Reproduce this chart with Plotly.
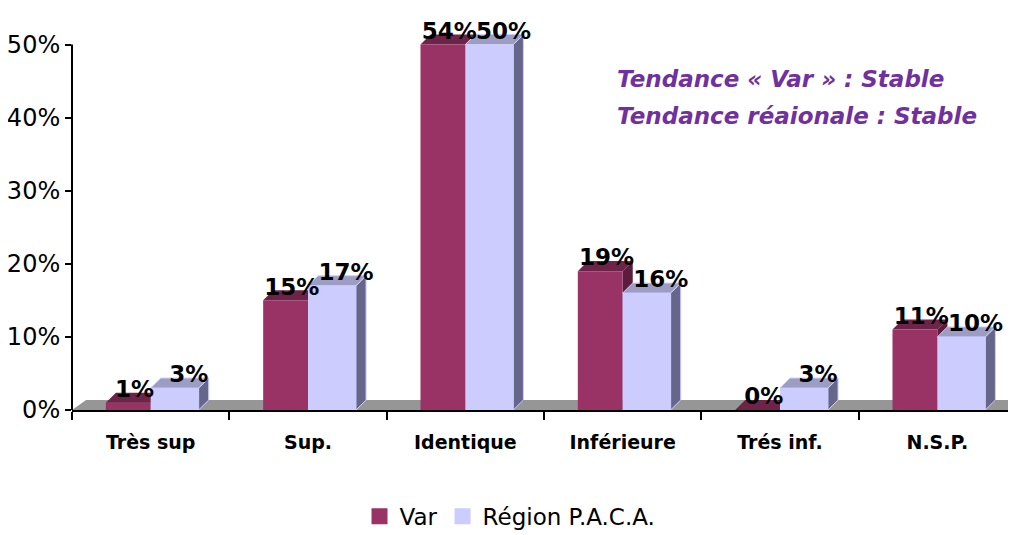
import plotly.graph_objects as go

categories = ["Très sup", "Sup.", "Identique", "Inférieure", "Trés inf.", "N.S.P."]
var_values = [1, 15, 54, 19, 0, 11]
paca_values = [3, 17, 50, 16, 3, 10]
y_ticks = [0, 10, 20, 30, 40, 50]

Y_MAX = 50          # axis is capped at 50%, taller bars are cut there
DX, DY = 0.064, 1.37  # 3D depth offset in data units
W_VAR, W_PACA = 0.285, 0.305

FONT = "DejaVu Sans"


def box_faces(x0, w, v):
    # front, top and side polygons of one 3D bar
    front = [(x0, 0), (x0, v), (x0 + w, v), (x0 + w, 0), (x0, 0)]
    top = [(x0, v), (x0 + DX, v + DY), (x0 + w + DX, v + DY), (x0 + w, v), (x0, v)]
    side = [(x0 + w, 0), (x0 + w, v), (x0 + w + DX, v + DY), (x0 + w + DX, DY), (x0 + w, 0)]
    return front, top, side


def poly_trace(polys, color, line_color=None):
    xs, ys = [], []
    for p in polys:
        xs += [pt[0] for pt in p] + [None]
        ys += [pt[1] for pt in p] + [None]
    return go.Scatter(
        x=xs, y=ys, mode="lines", fill="toself", fillcolor=color,
        line=dict(color=line_color or color, width=1 if line_color else 0),
        hoverinfo="skip", showlegend=False,
    )


def series_traces(values, offset, w, c_front, c_top, c_side, edge=None):
    fronts, tops, sides = [], [], []
    for i, v in enumerate(values):
        v = min(v, Y_MAX)
        f, t, s = box_faces(i + offset, w, v)
        fronts.append(f)
        tops.append(t)
        sides.append(s)
    return [poly_trace(sides, c_side, edge), poly_trace(tops, c_top, edge),
            poly_trace(fronts, c_front)]


fig = go.Figure()

# grey floor
n = len(categories)
floor = [(-0.5, 0), (-0.5 + DX * 1.4, DY), (n + 0.5, DY), (n + 0.5, 0), (-0.5, 0)]
fig.add_trace(poly_trace([floor], "#969696"))

for tr in series_traces(var_values, -W_VAR, W_VAR, "#993366", "#6e2449", "#5a1d3b"):
    fig.add_trace(tr)
for tr in series_traces(paca_values, 0, W_PACA, "#ccccff", "#9d9dc4", "#66668a", "#ccccff"):
    fig.add_trace(tr)

# data labels
fig.add_trace(go.Scatter(
    x=[i - W_VAR / 2 + 0.04 for i in range(n)],
    y=[min(v, Y_MAX) for v in var_values],
    mode="text", text=[f"{v}%" for v in var_values], textposition="top center",
    textfont=dict(family=FONT, size=23, color="black", weight="bold"),
    cliponaxis=False, showlegend=False, hoverinfo="skip",
))
fig.add_trace(go.Scatter(
    x=[i + W_PACA / 2 + 0.09 for i in range(n)],
    y=[min(v, Y_MAX) for v in paca_values],
    mode="text", text=[f"{v}%" for v in paca_values], textposition="top center",
    textfont=dict(family=FONT, size=23, color="black", weight="bold"),
    cliponaxis=False, showlegend=False, hoverinfo="skip",
))

# legend entries
fig.add_trace(go.Scatter(x=[None], y=[None], mode="markers", name="Var",
                         marker=dict(symbol="square", size=18, color="#993366")))
fig.add_trace(go.Scatter(x=[None], y=[None], mode="markers", name="Région P.A.C.A.",
                         marker=dict(symbol="square", size=18, color="#ccccff")))

fig.update_xaxes(
    range=[-0.5, n - 0.5], automargin=False,
    tickvals=list(range(n)), ticktext=categories, ticks="",
    tickfont=dict(family=FONT, size=19, color="black", weight="bold"),
    ticklabelstandoff=14,
    showline=True, linecolor="black", linewidth=2,
    showgrid=False, zeroline=False,
    minor=dict(tickmode="array", tickvals=[i - 0.5 for i in range(n + 1)],
               ticks="outside", ticklen=8, tickwidth=2, tickcolor="black"),
)
fig.update_yaxes(
    range=[0, 55], automargin=False,
    tickvals=y_ticks, ticktext=[f"{t}%" for t in y_ticks],
    ticks="outside", ticklen=6, tickwidth=2, tickcolor="black",
    tickfont=dict(family=FONT, size=24, color="black"),
    showline=False, showgrid=False, zeroline=False,
)

# y axis line stops at 50%
fig.add_shape(type="line", xref="paper", yref="y", x0=0, x1=0, y0=0, y1=Y_MAX,
              line=dict(color="black", width=2))

for text, yp in [("Tendance « Var » : Stable", 0.823),
                 ("Tendance réaionale : Stable", 0.731)]:
    fig.add_annotation(
        xref="paper", yref="paper", x=0.575, y=yp, xanchor="left", yanchor="middle",
        text=text, showarrow=False,
        font=dict(family=FONT, size=23, color="#7030a0", weight="bold", style="italic"),
    )

# the page body adds an 8px offset, margins compensate for it
fig.update_layout(
    width=1016, height=535,
    margin=dict(l=64, r=8, t=0, b=133),
    paper_bgcolor="white", plot_bgcolor="white",
    font=dict(family=FONT, color="black"),
    legend=dict(orientation="h", x=0.464, xanchor="center",
                yref="container", y=0.05, yanchor="middle",
                itemwidth=30, tracegroupgap=0,
                font=dict(family=FONT, size=23, color="black")),
)

fig.write_html("out.html")
